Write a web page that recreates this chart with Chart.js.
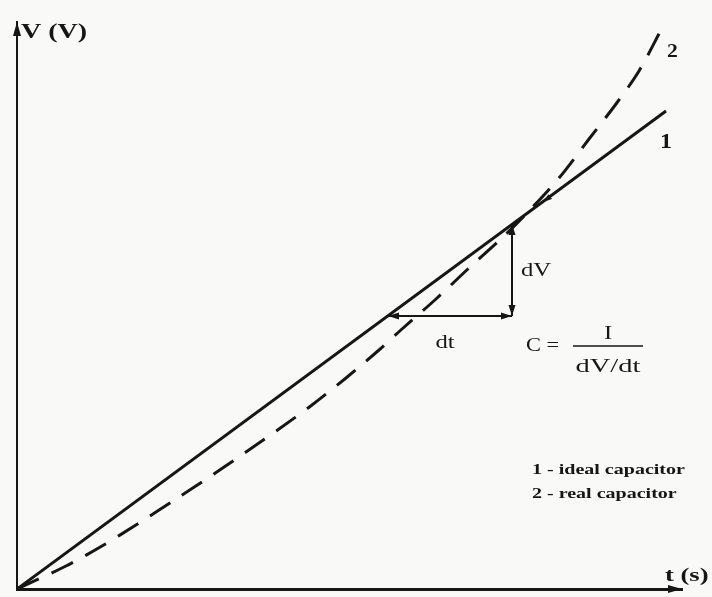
<!DOCTYPE html>
<html>
<head>
<meta charset="utf-8">
<script src="https://cdn.jsdelivr.net/npm/chart.js@4"></script>
<style>
  html, body { margin: 0; padding: 0; background: #f9f9f7; }
  canvas { display: block; }
</style>
</head>
<body>
<canvas id="cap-chart" width="712" height="597"></canvas>
<script>
// ideal capacitor (1) - straight line
var idealT = [0, 649];
var idealV = [0, 478];

// real capacitor (2) - dashed curve
var realT = [0, 49, 85, 122, 159, 194, 229, 262, 295, 329, 362, 385, 419, 452, 485, 510, 542, 572, 599, 622, 645];
var realV = [0, 23, 43, 66, 90, 113, 137, 160, 184, 211, 239, 260, 290, 321, 351, 376, 411, 450, 485, 518, 561];

// dV / dt triangle on line 1
var dtRange = [371, 495];
var dvRange = [273, 365];
var tangentMark = [526, 387];

var axisMax = { t: 665, v: 567 };

function toPoints(xs, ys) {
  return xs.map(function(x, i) { return { x: x, y: ys[i] }; });
}

function arrowHead(ctx, x, y, angle, len, wid) {
  ctx.save();
  ctx.translate(x, y);
  ctx.rotate(angle);
  ctx.beginPath();
  ctx.moveTo(0, 0);
  ctx.lineTo(-len, -wid / 2);
  ctx.lineTo(-len, wid / 2);
  ctx.closePath();
  ctx.fill();
  ctx.restore();
}

// the scanned figure has its lettering stretched sideways
function wideText(ctx, text, x, y, sx, align) {
  ctx.save();
  ctx.translate(x, y);
  ctx.scale(sx, 1);
  ctx.textAlign = align || 'left';
  ctx.fillText(text, 0, 0);
  ctx.restore();
}

var annotations = {
  id: 'annotations',
  afterDraw: function(chart) {
    var ctx = chart.ctx;
    var xs = chart.scales.x, ys = chart.scales.y;
    var area = chart.chartArea;
    ctx.save();
    ctx.fillStyle = '#161616';
    ctx.strokeStyle = '#161616';

    // axis arrow heads
    arrowHead(ctx, area.right, area.bottom, 0, 14, 8);
    arrowHead(ctx, area.left, area.top, -Math.PI / 2, 14, 8);

    // dt / dV arrows
    var x1 = xs.getPixelForValue(dtRange[0]);
    var x2 = xs.getPixelForValue(dtRange[1]);
    var yLo = ys.getPixelForValue(dvRange[0]);
    var yHi = ys.getPixelForValue(dvRange[1]);
    ctx.lineWidth = 2;
    ctx.beginPath();
    ctx.moveTo(x1, yLo); ctx.lineTo(x2, yLo);
    ctx.moveTo(x2, yLo); ctx.lineTo(x2, yHi);
    ctx.stroke();
    arrowHead(ctx, x2, yLo, 0, 11, 7);
    arrowHead(ctx, x1, yLo, Math.PI, 11, 7);
    arrowHead(ctx, x2, yHi, -Math.PI / 2, 11, 7);
    arrowHead(ctx, x2, yLo, Math.PI / 2, 11, 7);

    // small mark on line 1 above the triangle
    var slope = Math.atan2(
      ys.getPixelForValue(idealV[1]) - ys.getPixelForValue(idealV[0]),
      xs.getPixelForValue(idealT[1]) - xs.getPixelForValue(idealT[0]));
    arrowHead(ctx, xs.getPixelForValue(tangentMark[0]), ys.getPixelForValue(tangentMark[1]),
      slope + Math.PI, 9, 6);

    // texts
    ctx.textBaseline = 'alphabetic';
    ctx.font = 'bold 20px "Liberation Serif", serif';
    wideText(ctx, 'V (V)', area.left + 4, 38, 1.4);
    ctx.font = 'bold 19px "Liberation Serif", serif';
    wideText(ctx, 't (s)', area.right - 17, 581, 1.4);
    ctx.font = 'bold 20px "Liberation Serif", serif';
    wideText(ctx, '1', xs.getPixelForValue(idealT[1]) - 6, 148, 1.2);
    ctx.font = 'bold 18px "Liberation Serif", serif';
    wideText(ctx, '2', xs.getPixelForValue(realT[realT.length - 1]) + 5, 57, 1.2);

    ctx.font = '19px "Liberation Serif", serif';
    wideText(ctx, 'dV', x2 + 9, yLo - 40, 1.3);
    wideText(ctx, 'dt', (x1 + x2) / 2 - 5, yLo + 32, 1.3, 'center');
    wideText(ctx, 'C =', x2 + 14, yLo + 35, 1.18);
    var fx1 = x2 + 61, fx2 = x2 + 131, fmid = (fx1 + fx2) / 2;
    ctx.lineWidth = 1.5;
    ctx.beginPath();
    ctx.moveTo(fx1, yLo + 30); ctx.lineTo(fx2, yLo + 30);
    ctx.stroke();
    wideText(ctx, 'I', fmid, yLo + 23, 1.3, 'center');
    wideText(ctx, 'dV/dt', fmid, yLo + 56, 1.5, 'center');

    ctx.font = 'bold 14px "Liberation Serif", serif';
    wideText(ctx, '1 - ideal capacitor', 532, 474, 1.43);
    wideText(ctx, '2 - real capacitor', 532, 498, 1.43);
    ctx.restore();
  }
};

new Chart(document.getElementById('cap-chart'), {
  type: 'scatter',
  data: {
    datasets: [{
      label: '1 - ideal capacitor',
      data: toPoints(idealT, idealV),
      showLine: true,
      borderColor: '#161616',
      borderWidth: 3,
      pointRadius: 0,
      fill: false
    }, {
      label: '2 - real capacitor',
      data: toPoints(realT, realV),
      showLine: true,
      borderColor: '#161616',
      borderWidth: 3,
      borderDash: [24, 14],
      pointRadius: 0,
      tension: 0.3,
      fill: false
    }]
  },
  options: {
    responsive: false,
    animation: false,
    layout: {
      padding: { left: 17, top: 22, right: 30, bottom: 8 }
    },
    plugins: {
      legend: { display: false },
      tooltip: { enabled: false }
    },
    scales: {
      x: {
        type: 'linear',
        min: 0,
        max: axisMax.t,
        grid: { display: false, drawTicks: false },
        ticks: { display: false },
        border: { display: true, color: '#161616', width: 3 }
      },
      y: {
        type: 'linear',
        min: 0,
        max: axisMax.v,
        grid: { display: false, drawTicks: false },
        ticks: { display: false },
        border: { display: true, color: '#161616', width: 2 }
      }
    }
  },
  plugins: [annotations]
});
</script>
</body>
</html>
